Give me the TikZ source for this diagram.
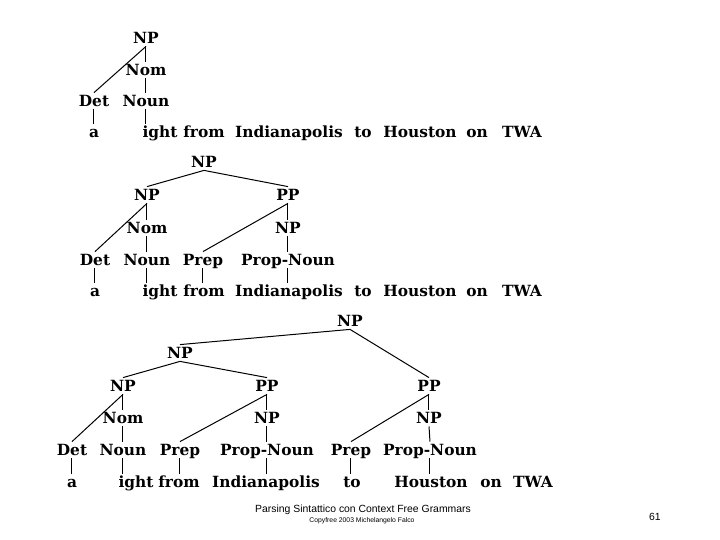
\documentclass[tikz,border=0pt]{standalone}
\usepackage{fontspec}
\usepackage{tikz}
\newfontfamily\treefont{DejaVu Serif}
\newfontfamily\footfont{Liberation Sans}

\begin{document}
\begin{tikzpicture}[x=0.5pt, y=-0.5pt,
  cat/.style={font={\treefont\bfseries\fontsize{7.7}{8}\selectfont}, inner sep=1.2pt,
    text height=5.6pt, text depth=0pt},
  wrd/.style={cat},
  br/.style={line width=0.5pt},
  foot/.style={font={\footfont\fontsize{5.2}{6}\selectfont}, inner sep=0pt},
  small/.style={font={\footfont\fontsize{3.4}{4}\selectfont}, inner sep=0pt}
]
  \useasboundingbox (0,0) rectangle (720,540);

  % first tree
  \node[cat] (np1)   at (146,38)  {NP};
  \node[cat] (nom1)  at (146,70)  {Nom};
  \node[cat] (det1)  at (94,101)  {Det};
  \node[cat] (noun1) at (146,101) {Noun};
  \node[wrd] (a1)    at (94,132)  {a};
  \node[wrd] (ight1) at (160,132) {ight};
  \node[wrd] (from1) at (204,132) {from};
  \node[wrd] (ind1)  at (289,132) {Indianapolis};
  \node[wrd] (to1)   at (363,132) {to};
  \node[wrd] (hou1)  at (420,132) {Houston};
  \node[wrd] (on1)   at (477,132) {on};
  \node[wrd] (twa1)  at (522,132) {TWA};

  \draw[br] (np1.south) -- (det1.north);
  \draw[br] (np1.south) -- (nom1.north);
  \draw[br] (nom1.south) -- (noun1.north);
  \draw[br] (det1.south) -- (det1.south |- a1.north);
  \draw[br] (noun1.south) -- (noun1.south |- ight1.north);

  % second tree
  \node[cat] (np2)    at (204,162) {NP};
  \node[cat] (np2a)   at (147,195) {NP};
  \node[cat] (pp2)    at (288,195) {PP};
  \node[cat] (nom2)   at (147,228) {Nom};
  \node[cat] (np2b)   at (288,228) {NP};
  \node[cat] (det2)   at (95,260)  {Det};
  \node[cat] (noun2)  at (147,260) {Noun};
  \node[cat] (prep2)  at (203,260) {Prep};
  \node[cat] (propn2) at (288,260) {Prop-Noun};
  \node[wrd] (a2)     at (95,291)  {a};
  \node[wrd] (ight2)  at (160,291) {ight};
  \node[wrd] (from2)  at (204,291) {from};
  \node[wrd] (ind2)   at (289,291) {Indianapolis};
  \node[wrd] (to2)    at (363,291) {to};
  \node[wrd] (hou2)   at (420,291) {Houston};
  \node[wrd] (on2)    at (477,291) {on};
  \node[wrd] (twa2)   at (522,291) {TWA};

  \draw[br] (np2.south) -- (np2a.north);
  \draw[br] (np2.south) -- (pp2.north);
  \draw[br] (np2a.south) -- (det2.north);
  \draw[br] (np2a.south) -- (nom2.north);
  \draw[br] (nom2.south) -- (noun2.north);
  \draw[br] (pp2.south) -- (prep2.north);
  \draw[br] (pp2.south) -- (np2b.north);
  \draw[br] (np2b.south) -- (propn2.north);
  \draw[br] (det2.south) -- (det2.south |- a2.north);
  \draw[br] (noun2.south) -- (noun2.south |- ight2.north);
  \draw[br] (prep2.south) -- (prep2.south |- from2.north);
  \draw[br] (propn2.south) -- (propn2.south |- ind2.north);

  % third tree
  \node[cat] (np3)     at (350,321) {NP};
  \node[cat] (np3a)    at (180,353) {NP};
  \node[cat] (np3b)    at (123,386) {NP};
  \node[cat] (pp3a)    at (267,386) {PP};
  \node[cat] (pp3b)    at (429,386) {PP};
  \node[cat] (nom3)    at (123,418) {Nom};
  \node[cat] (np3c)    at (267,418) {NP};
  \node[cat] (np3d)    at (429,418) {NP};
  \node[cat] (det3)    at (72,450)  {Det};
  \node[cat] (noun3)   at (123,450) {Noun};
  \node[cat] (prep3a)  at (180,450) {Prep};
  \node[cat] (propn3a) at (267,450) {Prop-Noun};
  \node[cat] (prep3b)  at (351,450) {Prep};
  \node[cat] (propn3b) at (430,450) {Prop-Noun};
  \node[wrd] (a3)      at (72,482)  {a};
  \node[wrd] (ight3)   at (136,482) {ight};
  \node[wrd] (from3)   at (179,482) {from};
  \node[wrd] (ind3)    at (266,482) {Indianapolis};
  \node[wrd] (to3)     at (352,482) {to};
  \node[wrd] (hou3)    at (431,482) {Houston};
  \node[wrd] (on3)     at (491,482) {on};
  \node[wrd] (twa3)    at (533,482) {TWA};

  \draw[br] (np3.south) -- (np3a.north);
  \draw[br] (np3.south) -- (pp3b.north);
  \draw[br] (np3a.south) -- (np3b.north);
  \draw[br] (np3a.south) -- (pp3a.north);
  \draw[br] (np3b.south) -- (det3.north);
  \draw[br] (np3b.south) -- (nom3.north);
  \draw[br] (nom3.south) -- (noun3.north);
  \draw[br] (pp3a.south) -- (prep3a.north);
  \draw[br] (pp3a.south) -- (np3c.north);
  \draw[br] (np3c.south) -- (propn3a.north);
  \draw[br] (pp3b.south) -- (prep3b.north);
  \draw[br] (pp3b.south) -- (np3d.north);
  \draw[br] (np3d.south) -- (propn3b.north);
  \draw[br] (det3.south) -- (det3.south |- a3.north);
  \draw[br] (noun3.south) -- (noun3.south |- ight3.north);
  \draw[br] (prep3a.south) -- (prep3a.south |- from3.north);
  \draw[br] (propn3a.south) -- (propn3a.south |- ind3.north);
  \draw[br] (prep3b.south) -- (prep3b.south |- to3.north);
  \draw[br] (propn3b.south) -- (propn3b.south |- hou3.north);

  % footer
  \node[foot]  (title) at (363,510) {Parsing Sintattico con Context Free Grammars};
  \node[small] (copy)  at (362,521) {Copyfree 2003 Michelangelo Falco};
  \node[foot]  (page)  at (655,517) {61};
\end{tikzpicture}
\end{document}
